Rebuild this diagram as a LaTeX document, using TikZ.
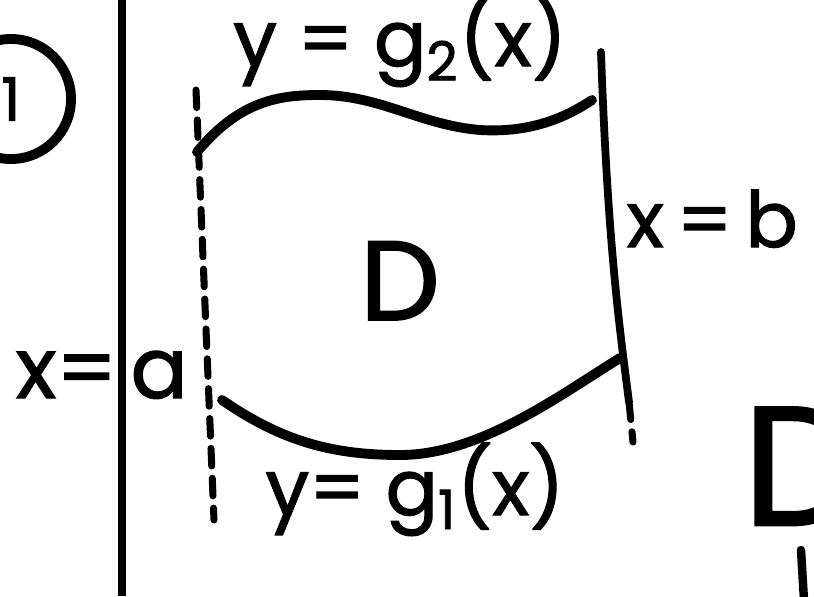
\documentclass[tikz,border=0pt]{standalone}
\usepackage{fontspec}
\setmainfont{Poppins}[FakeBold=1.6]
\usetikzlibrary{positioning}

\begin{document}
\begin{tikzpicture}[
        x=0.01cm, y=-0.01cm,
        every node/.style={font=\fontsize{22}{26}\selectfont, inner sep=0pt},
        lab/.style={anchor=base},
        pen/.style={line width=2.8pt, line cap=round},
        rule/.style={line width=2.3pt},
        bound/.style={line width=2pt, line cap=round, dash pattern=on 5pt off 3.5pt}
    ]

    \useasboundingbox (0,0) rectangle (814,596);
    \clip (0,0) rectangle (814,596);

    % numbering and margin line
    \node[draw, circle, pen, minimum size=1.2cm, font=\fontsize{17}{20}\selectfont] (one) at (11,99) {1};
    \coordinate (mtop) at (122,0);
    \coordinate (mbot) at (122,596);
    \draw[rule] (mtop) -- (mbot);

    % x = a and x = b
    \coordinate (la) at (196,90);
    \coordinate (lb) at (214,520);
    \draw[bound] (la) -- (lb);

    \coordinate (ra) at (601,52);
    \coordinate (rm) at (629,402);
    \coordinate (rb) at (633,442);
    \draw[pen, line width=2.2pt] (ra) .. controls (608,250) and (620,330) .. (rm);
    \draw[bound] (rm) -- (rb);

    % upper and lower curves
    \coordinate (g2a) at (197,152);
    \coordinate (g2b) at (592,100);
    \draw[pen] (g2a) .. controls (240,100) and (280,95) .. (320,95)
        .. controls (380,95) and (420,125) .. (480,130)
        .. controls (530,133) and (565,118) .. (g2b);

    \coordinate (g1a) at (222,400);
    \coordinate (g1b) at (620,358);
    \draw[pen] (g1a) .. controls (280,440) and (330,455) .. (400,455)
        .. controls (480,455) and (560,395) .. (g1b);

    % labels
    \node[lab] (g2lab) at (400,66) {y = g\textsubscript{2}(x)};
    \node[lab] (g1lab) at (415,515) {y= g\textsubscript{1}(x)};
    \node[lab, font=\fontsize{32}{36}\selectfont] (dom) at (400,320) {D};
    \node[lab, anchor=base west] (xb) at (626,247) {x\,=\,b};
    \node[lab, anchor=base east, font=\fontsize{24}{28}\selectfont] (xeq) at (118,398) {x=};
    \node[base right=0.12cm of xeq, font=\fontsize{24}{28}\selectfont] (xa) {a};

    % next region, cut off at the edge
    \node[lab, anchor=base west, font=\fontsize{48}{54}\selectfont] (dnext) at (742,525) {D};
    \coordinate (stka) at (801,550);
    \coordinate (stkb) at (804,600);
    \draw[pen, line width=2.4pt] (stka) -- (stkb);

\end{tikzpicture}
\end{document}
